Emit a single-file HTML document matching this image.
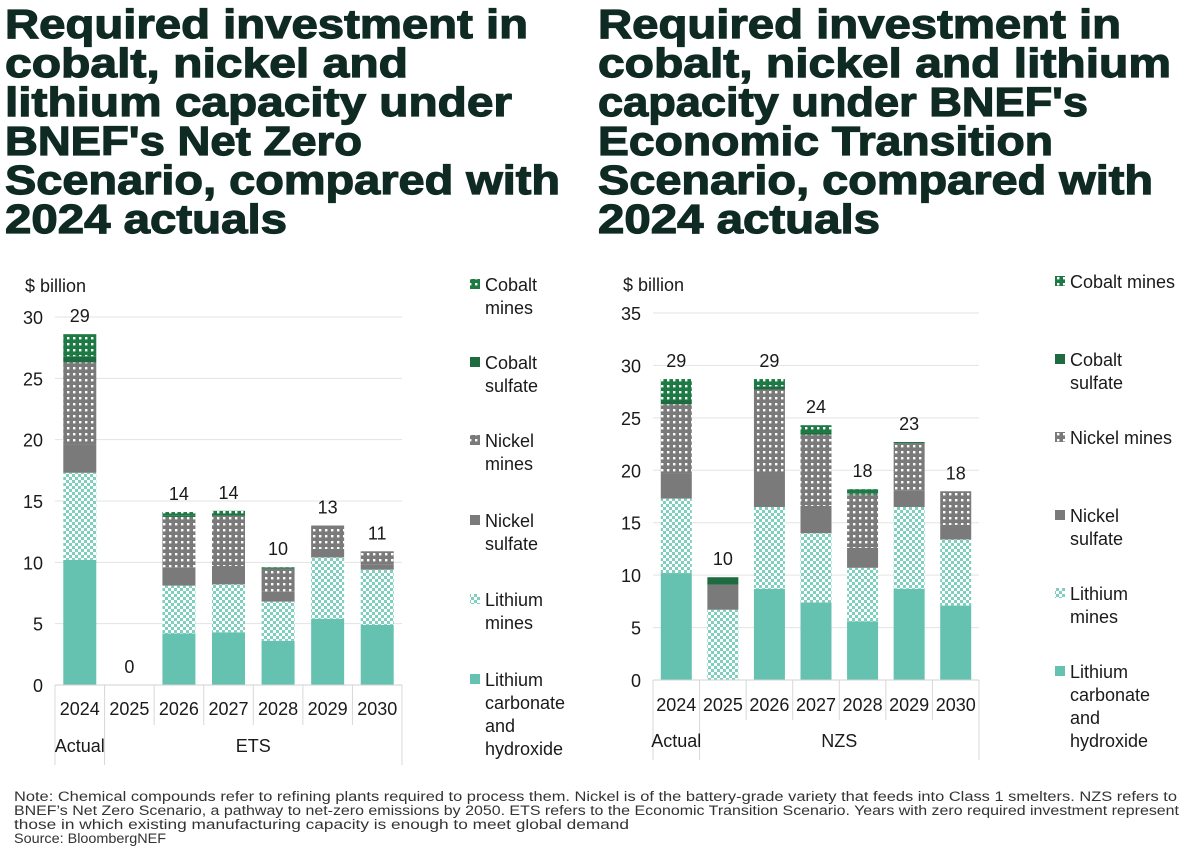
<!DOCTYPE html>
<html><head><meta charset="utf-8">
<style>
html,body{margin:0;padding:0;background:#fff;}
svg{display:block;font-family:"Liberation Sans",Arial,sans-serif;}
.title{font-weight:900;font-size:41px;fill:#0e2a22;stroke:#0e2a22;stroke-width:1.2px;}
.tick{font-size:18px;fill:#1a1a1a;}
.leg{font-size:18px;fill:#1a1a1a;}
.note{font-size:13.5px;fill:#333;}
</style></head>
<body>
<svg id="root" width="1200" height="850" viewBox="0 0 1200 850">
<defs>
<pattern id="pLiMines" width="6" height="6" patternUnits="userSpaceOnUse"><rect width="6" height="6" fill="#fff"/><rect x="0" y="0" width="3" height="3" fill="#7fcfbf"/><rect x="3" y="3" width="3" height="3" fill="#7fcfbf"/></pattern>
<pattern id="pNiMines" width="6" height="6" patternUnits="userSpaceOnUse"><rect width="6" height="6" fill="#7a7a7a"/><rect x="1" y="1" width="2.4" height="2.4" fill="#fff"/></pattern>
<pattern id="pCoMines" width="6" height="6" patternUnits="userSpaceOnUse"><rect width="6" height="6" fill="#1d7a45"/><rect x="1" y="1" width="2.4" height="2.4" fill="#fff"/></pattern>
</defs>
<g>
<text class="title" x="5" y="38" textLength="523" lengthAdjust="spacingAndGlyphs">Required investment in</text>
<text class="title" x="5" y="77" textLength="403" lengthAdjust="spacingAndGlyphs">cobalt, nickel and</text>
<text class="title" x="5" y="116" textLength="507" lengthAdjust="spacingAndGlyphs">lithium capacity under</text>
<text class="title" x="5" y="155" textLength="357" lengthAdjust="spacingAndGlyphs">BNEF's Net Zero</text>
<text class="title" x="5" y="194" textLength="555" lengthAdjust="spacingAndGlyphs">Scenario, compared with</text>
<text class="title" x="5" y="233" textLength="282" lengthAdjust="spacingAndGlyphs">2024 actuals</text>
</g>
<g>
<text class="title" x="598" y="38" textLength="523" lengthAdjust="spacingAndGlyphs">Required investment in</text>
<text class="title" x="598" y="77" textLength="573" lengthAdjust="spacingAndGlyphs">cobalt, nickel and lithium</text>
<text class="title" x="598" y="116" textLength="490" lengthAdjust="spacingAndGlyphs">capacity under BNEF's</text>
<text class="title" x="598" y="155" textLength="455" lengthAdjust="spacingAndGlyphs">Economic Transition</text>
<text class="title" x="598" y="194" textLength="555" lengthAdjust="spacingAndGlyphs">Scenario, compared with</text>
<text class="title" x="598" y="233" textLength="282" lengthAdjust="spacingAndGlyphs">2024 actuals</text>
</g>
<g id="leftChart"></g>
<g id="rightChart"></g>
<g>
<text class="note" x="14" y="801" textLength="1163" lengthAdjust="spacingAndGlyphs">Note: Chemical compounds refer to refining plants required to process them. Nickel is of the battery-grade variety that feeds into Class 1 smelters. NZS refers to</text>
<text class="note" x="14" y="815" textLength="1165" lengthAdjust="spacingAndGlyphs">BNEF’s Net Zero Scenario, a pathway to net-zero emissions by 2050. ETS refers to the Economic Transition Scenario. Years with zero required investment represent</text>
<text class="note" x="14" y="829" textLength="615" lengthAdjust="spacingAndGlyphs">those in which existing manufacturing capacity is enough to meet global demand</text>
<text class="note" x="14" y="843" textLength="152" lengthAdjust="spacingAndGlyphs">Source: BloombergNEF</text>
</g>
</svg>
<script>
const years = ["2024","2025","2026","2027","2028","2029","2030"];
const seriesNames = ["Lithium carbonate and hydroxide","Lithium mines","Nickel sulfate","Nickel mines","Cobalt sulfate","Cobalt mines"];
const seriesFills = ["#66c2b0","url(#pLiMines)","#7a7a7a","url(#pNiMines)","#1d6b3f","url(#pCoMines)"];
// ETS (left)
const etsLiCarb   = [10.2, 0, 4.2, 4.3, 3.6, 5.4, 4.9];
const etsLiMines  = [7.1, 0, 3.9, 3.9, 3.2, 5.0, 4.5];
const etsNiSulf   = [2.3, 0, 1.5, 1.5, 0.8, 0.7, 0.4];
const etsNiMines  = [6.7, 0, 4.1, 4.1, 1.9, 1.9, 1.1];
const etsCoSulf   = [0.5, 0, 0.1, 0.1, 0.0, 0.0, 0.0];
const etsCoMines  = [1.8, 0, 0.3, 0.3, 0.1, 0.0, 0.0];
const etsTotals   = ["29","0","14","14","10","13","11"];
const etsTicks    = [0,5,10,15,20,25,30];
// NZS (right)
const nzsLiCarb   = [10.2, 0, 8.7, 7.4, 5.6, 8.7, 7.1];
const nzsLiMines  = [7.1, 6.7, 7.8, 6.6, 5.1, 7.8, 6.3];
const nzsNiSulf   = [2.4, 2.4, 3.1, 2.6, 1.9, 1.6, 1.4];
const nzsNiMines  = [6.6, 0, 8.1, 6.8, 5.1, 4.5, 3.2];
const nzsCoSulf   = [0.4, 0.7, 0.3, 0.2, 0.1, 0.0, 0.0];
const nzsCoMines  = [2.0, 0, 0.7, 0.7, 0.4, 0.1, 0.0];
const nzsTotals   = ["29","10","29","24","18","23","18"];
const nzsTicks    = [0,5,10,15,20,25,30,35];

const NS="http://www.w3.org/2000/svg";
function mk(tag, attrs, parent){const e=document.createElementNS(NS,tag);for(const k in attrs)e.setAttribute(k,attrs[k]);parent.appendChild(e);return e;}

function drawChart(g, cfg){
  const {x0,x1,yZero,yMax,maxV,series,totals,ticks,group,legendX,legendYs,legendLines,unitY,barW,catLabelY,groupLabelY} = cfg;
  const yScale = v => yZero - (yZero - yMax) * v / maxV;
  const bw = (x1 - x0) / years.length;
  const xCenter = i => x0 + bw * (i + 0.5);
  ticks.forEach(t=>{
    if(t>0){const l=mk('line',{x1:x0,x2:x1,y1:yScale(t),y2:yScale(t),stroke:'#e3e3e3','stroke-width':1},g);
      
      }
    const tx=mk('text',{x:x0-12,y:yScale(t)+7,'text-anchor':'end',class:'tick'},g);
    
    
    tx.textContent=t;
  });
  const u=mk('text',{x:x0-30,y:unitY,class:'tick'},g);
  
  
  u.textContent='$ billion';
  years.forEach((yr,i)=>{
    let cum=0;
    series.forEach((s,si)=>{
      const v=s[i]; if(v<=0) return;
      const yTop=yScale(cum+v), yBot=yScale(cum);
      const r=mk('rect',{x:xCenter(i)-barW/2,y:yTop,width:barW,height:Math.max(0.5,yBot-yTop),fill:seriesFills[si]},g);
      
      
      cum+=v;
    });
    const lbl=mk('text',{x:xCenter(i),y:yScale(cum)-12,'text-anchor':'middle',class:'tick'},g);
    
    
    lbl.textContent=totals[i];
    const xl=mk('text',{x:xCenter(i),y:catLabelY,'text-anchor':'middle',class:'tick'},g);
    
    
    xl.textContent=yr;
  });
  const ax=mk('line',{x1:x0,x2:x1,y1:yZero,y2:yZero,stroke:'#d0d0d0','stroke-width':1},g);
  
  
  for(let i=0;i<=years.length;i++){
    const long = (i===0||i===1||i===years.length);
    const s=mk('line',{x1:x0+bw*i,x2:x0+bw*i,y1:yZero,y2:long?yZero+80:yZero+40,stroke:'#d8d8d8','stroke-width':1},g);
    
    
  }
  const a=mk('text',{x:xCenter(0),y:groupLabelY,'text-anchor':'middle',class:'tick'},g);
  
  
  a.textContent='Actual';
  const gl=mk('text',{x:(x0+bw+x1)/2,y:groupLabelY,'text-anchor':'middle',class:'tick'},g);
  
  
  gl.textContent=group;
  const order=[5,4,3,2,1,0];
  order.forEach((si,k)=>{
    const y=legendYs[k];
    const sw=mk('rect',{x:legendX,y:y-12,width:10,height:10,fill:seriesFills[si]},g);
    
    
    legendLines[k].forEach((ln,j)=>{
      const t=mk('text',{x:legendX+15,y:y+j*23,class:'leg'},g);
      
      
      t.textContent=ln;
    });
  });
}

drawChart(document.getElementById('leftChart'),{
  x0:55,x1:402,yZero:685,yMax:317,maxV:30,barW:33,
  series:[etsLiCarb,etsLiMines,etsNiSulf,etsNiMines,etsCoSulf,etsCoMines],
  totals:etsTotals,ticks:etsTicks,group:'ETS',unitY:292,catLabelY:715,groupLabelY:752,
  legendX:470,legendYs:[291,369,447,527,606,686],
  legendLines:[["Cobalt","mines"],["Cobalt","sulfate"],["Nickel","mines"],["Nickel","sulfate"],["Lithium","mines"],["Lithium","carbonate","and","hydroxide"]]
});
drawChart(document.getElementById('rightChart'),{
  x0:653,x1:979,yZero:680,yMax:313,maxV:35,barW:31,
  series:[nzsLiCarb,nzsLiMines,nzsNiSulf,nzsNiMines,nzsCoSulf,nzsCoMines],
  totals:nzsTotals,ticks:nzsTicks,group:'NZS',unitY:291,catLabelY:711,groupLabelY:747,
  legendX:1055,legendYs:[288,366,444,522,600,678],
  legendLines:[["Cobalt mines"],["Cobalt","sulfate"],["Nickel mines"],["Nickel","sulfate"],["Lithium","mines"],["Lithium","carbonate","and","hydroxide"]]
});
</script>
</body></html>
